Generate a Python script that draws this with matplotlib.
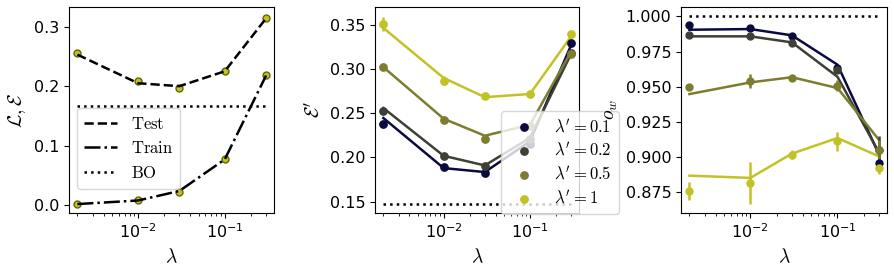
import numpy as np
import matplotlib
matplotlib.use("Agg")
import matplotlib.pyplot as plt

plt.rcParams["mathtext.fontset"] = "cm"
plt.rcParams["font.size"] = 11.5
plt.rcParams["axes.labelsize"] = 14

# regularisation strengths
lam = [0.002, 0.01, 0.03, 0.1, 0.3]

# panel 1: loss / error vs lambda
test_pts = [0.256, 0.209, 0.197, 0.225, 0.315]
test_line = [0.253, 0.205, 0.200, 0.225, 0.314]
train_pts = [0.002, 0.008, 0.023, 0.077, 0.218]
train_line = [0.002, 0.008, 0.024, 0.077, 0.218]
bo_err = 0.167

# panel 2: E' for several lambda'
lam_prime = ["0.1", "0.2", "0.5", "1"]
colors = ["#0a0a40", "#3f4035", "#7d7d30", "#c2c226"]
eps_pts = [
    [0.2376, 0.1885, 0.182, 0.2153, 0.329],
    [0.2527, 0.201, 0.1896, 0.221, 0.318],
    [0.3017, 0.2417, 0.2206, 0.2357, 0.317],
    [0.351, 0.2866, 0.2689, 0.2716, 0.3399],
]
eps_err = [
    [0.002, 0.002, 0.002, 0.002, 0.003],
    [0.002, 0.002, 0.002, 0.002, 0.003],
    [0.002, 0.002, 0.002, 0.002, 0.003],
    [0.008, 0.005, 0.002, 0.002, 0.002],
]
eps_line = [
    [0.2444, 0.1878, 0.1833, 0.218, 0.327],
    [0.2557, 0.2017, 0.1908, 0.222, 0.317],
    [0.302, 0.2436, 0.2244, 0.2368, 0.3198],
    [0.3463, 0.2897, 0.268, 0.2716, 0.3368],
]
bo_eps = 0.147

# panel 3: overlap o_w
ow_pts = [
    [0.9936, 0.9917, 0.9858, 0.9633, 0.8956],
    [0.9865, 0.9858, 0.981, 0.962, 0.905],
    [0.9495, 0.9542, 0.9561, 0.9507, 0.905],
    [0.8757, 0.8814, 0.9016, 0.911, 0.8921],
]
ow_err = [
    [0.001, 0.001, 0.001, 0.002, 0.004],
    [0.001, 0.001, 0.001, 0.002, 0.010],
    [0.002, 0.005, 0.002, 0.004, 0.007],
    [0.0064, 0.0147, 0.003, 0.0065, 0.004],
]
ow_line = [
    [0.9905, 0.991, 0.9865, 0.9656, 0.9016],
    [0.9858, 0.9858, 0.9815, 0.957, 0.903],
    [0.9447, 0.953, 0.9567, 0.949, 0.912],
    [0.8866, 0.885, 0.9023, 0.9134, 0.9003],
]
bo_ow = 1.0

fig = plt.figure(figsize=(8.94, 2.7), dpi=100)
ax1 = fig.add_axes([69 / 894, 1 - 213 / 270, 205 / 894, 206 / 270])
ax2 = fig.add_axes([375 / 894, 1 - 213 / 270, 204 / 894, 206 / 270])
ax3 = fig.add_axes([681 / 894, 1 - 213 / 270, 206 / 894, 206 / 270])

# ---- panel 1 ----
yc = colors[3]
ax1.errorbar(lam, test_pts, yerr=0.002, fmt="o", color=yc, mec="#666600", ms=5, zorder=2)
ax1.errorbar(lam, train_pts, yerr=0.001, fmt="o", color=yc, mec="#666600", ms=5, zorder=2)
ax1.plot(lam, test_line, "k--", lw=1.8, label=r"$\mathrm{Test}$", zorder=3)
ax1.plot(lam, train_line, "k-.", lw=1.8, label=r"$\mathrm{Train}$", zorder=3)
ax1.hlines(bo_err, lam[0], lam[-1], colors="k", linestyles=":", lw=1.8, label=r"$\mathrm{BO}$")
ax1.set_xscale("log")
ax1.set_ylim(-0.013, 0.333)
ax1.set_yticks([0.0, 0.1, 0.2, 0.3])
ax1.set_ylabel(r"$\mathcal{L}, \mathcal{E}$")
ax1.set_xlabel(r"$\lambda$")
ax1.legend(loc="upper left", bbox_to_anchor=(0.04, 0.51), borderaxespad=0,
           fontsize=12, handlelength=2.0, labelspacing=0.4)

# ---- panel 2 ----
for i in range(4):
    ax2.plot(lam, eps_line[i], color=colors[i], lw=1.8, zorder=2)
    ax2.errorbar(lam, eps_pts[i], yerr=eps_err[i], fmt="none", ecolor=colors[i], elinewidth=1.8, zorder=3)
    ax2.scatter(lam, eps_pts[i], color=colors[i], s=28, zorder=3,
                label=r"$\lambda^\prime=" + lam_prime[i] + "$")
ax2.hlines(bo_eps, lam[0], lam[-1], colors="k", linestyles=":", lw=1.8)
ax2.set_xscale("log")
ax2.set_ylim(0.137, 0.370)
ax2.set_yticks([0.15, 0.20, 0.25, 0.30, 0.35])
ax2.set_ylabel(r"$\mathcal{E}^\prime$")
ax2.set_xlabel(r"$\lambda$")
leg = ax2.legend(loc="lower left", bbox_to_anchor=(0.618, -0.005), borderaxespad=0,
                 fontsize=12, handletextpad=0.8, labelspacing=0.35)
leg.set_zorder(10)

# ---- panel 3 ----
for i in range(4):
    ax3.plot(lam, ow_line[i], color=colors[i], lw=1.8, zorder=2)
    ax3.errorbar(lam, ow_pts[i], yerr=ow_err[i], fmt="o", color=colors[i], ms=5,
                 elinewidth=1.8, zorder=3)
ax3.hlines(bo_ow, lam[0], lam[-1], colors="k", linestyles=":", lw=1.8)
ax3.set_xscale("log")
ax3.set_ylim(0.860, 1.0067)
ax3.set_yticks([0.875, 0.900, 0.925, 0.950, 0.975, 1.000])
ax3.set_ylabel(r"$o_w$")
ax3.set_xlabel(r"$\lambda$")

for ax in (ax1, ax2, ax3):
    ax.set_xlim(0.0016, 0.37)

fig.savefig("out.png", dpi=100)
